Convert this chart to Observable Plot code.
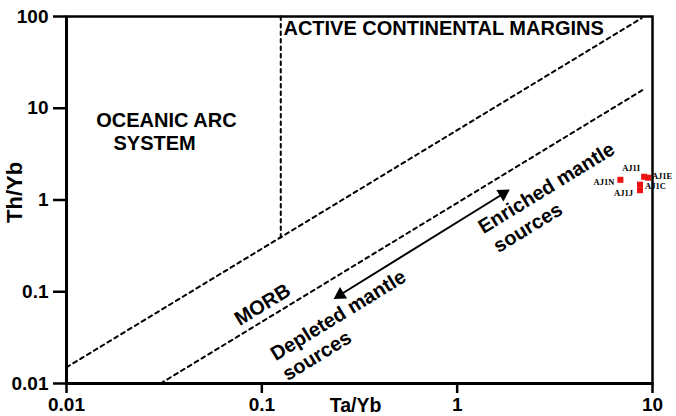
<!DOCTYPE html>
<html>
<head>
<meta charset="utf-8">
<script src="https://cdn.jsdelivr.net/npm/d3@7"></script>
<script src="https://cdn.jsdelivr.net/npm/@observablehq/plot@0.6"></script>
<style>
  html, body { margin: 0; padding: 0; background: #fff; }
</style>
</head>
<body>
<div id="chart"></div>
<script>
// ---- data ----
const samples = ["AJ1N", "AJ1I", "AJ1E", "AJ1C", "AJ1J"];
const taYb = [6.85, 9.06, 9.48, 8.63, 8.63];
const thYb = [1.66, 1.79, 1.75, 1.47, 1.28];

const xTicks = [0.01, 0.1, 1, 10];
const yTicks = [0.01, 0.1, 1, 10, 100];

// field boundaries (Ta/Yb, Th/Yb)
const upperArrayLine = [[0.01, 0.015], [8.8, 96]];
const lowerArrayLine = [[0.0303, 0.01], [9.16, 16.4]];
const arcBoundary = [[0.125, 100], [0.125, 0.39]];
const mantleTrend = [[0.252, 0.0927], [1.72, 1.17]];

// field labels
const fieldLabels = ["ACTIVE CONTINENTAL MARGINS", "OCEANIC ARC", "SYSTEM"];
const fieldX = [0.129, 0.0142, 0.0174];
const fieldY = [73, 7.4, 4.16];

const trendLabels = ["MORB", "Depleted mantle", "sources", "Enriched mantle", "sources"];
const trendX = [0.0742, 0.1132, 0.1303, 1.311, 1.565];
const trendY = [0.0483, 0.02004, 0.01213, 0.486, 0.302];

// ---- tables ----
const rows = samples.map((name, i) => ({name, x: taYb[i], y: thYb[i]}));
const pt = (a) => a.map(([x, y]) => ({x, y}));
const fields = fieldLabels.map((t, i) => ({t, x: fieldX[i], y: fieldY[i]}));
const trends = trendLabels.map((t, i) => ({t, x: trendX[i], y: trendY[i]}));
const heads = pt(mantleTrend).map((d, i) => ({...d, rot: i === 0 ? 238 : 58}));

const serif = "'Liberation Serif', 'Times New Roman', serif";
const lab = (name, opts) => Plot.text(rows.filter(d => d.name === name), {
  x: "x", y: "y", text: "name", fontFamily: serif, fontSize: 8.5, fontWeight: "bold", ...opts
});

const chart = Plot.plot({
  width: 676,
  height: 416,
  marginLeft: 66,
  marginRight: 24,
  marginTop: 16,
  marginBottom: 33,
  style: {fontFamily: "'Liberation Sans', Arial, sans-serif", fontSize: "19px", fontWeight: "bold", color: "black", background: "white"},
  x: {type: "log", domain: [0.01, 10]},
  y: {type: "log", domain: [0.01, 100]},
  marks: [
    Plot.frame({strokeWidth: 2.5}),
    Plot.ruleX([0.01], {strokeWidth: 3}),
    Plot.ruleY([0.01], {strokeWidth: 3}),
    Plot.axisX({ticks: xTicks, tickFormat: d => String(d), tickSize: 10, tickPadding: 4, strokeWidth: 2.5, label: null}),
    Plot.axisY({ticks: yTicks, tickFormat: d => String(d), tickSize: 13, tickPadding: 5, strokeWidth: 2.5, label: null}),
    Plot.text(["Ta/Yb"], {frameAnchor: "bottom", dx: -4, dy: 28, fontSize: 19.5}),
    Plot.text(["Th/Yb"], {frameAnchor: "left", dx: -52, dy: 23, rotate: -90, fontSize: 22}),
    Plot.line(pt(upperArrayLine), {x: "x", y: "y", strokeWidth: 2, strokeDasharray: "4,4"}),
    Plot.line(pt(lowerArrayLine), {x: "x", y: "y", strokeWidth: 2, strokeDasharray: "4,4"}),
    Plot.line(pt(arcBoundary), {x: "x", y: "y", strokeWidth: 2, strokeDasharray: "3.5,4"}),
    Plot.line(pt(mantleTrend), {x: "x", y: "y", strokeWidth: 2}),
    Plot.dot(heads, {x: "x", y: "y", symbol: "triangle", r: 5, fill: "black", rotate: "rot"}),
    Plot.text(fields, {x: "x", y: "y", text: "t", textAnchor: "start", fontSize: 20}),
    Plot.text(trends, {x: "x", y: "y", text: "t", textAnchor: "start", rotate: -31.5, fontSize: 20}),
    Plot.dot(rows, {x: "x", y: "y", symbol: "square", r: 3.4, fill: "#ee1111"}),
    lab("AJ1N", {textAnchor: "end", dx: -6, dy: 2}),
    lab("AJ1I", {textAnchor: "middle", dx: -13, dy: -9}),
    lab("AJ1E", {textAnchor: "start", dx: 4, dy: -1.5}),
    lab("AJ1C", {textAnchor: "start", dx: 5, dy: 1.5}),
    lab("AJ1J", {textAnchor: "end", dx: -7, dy: 3})
  ]
});
document.getElementById("chart").appendChild(chart);
</script>
</body>
</html>
